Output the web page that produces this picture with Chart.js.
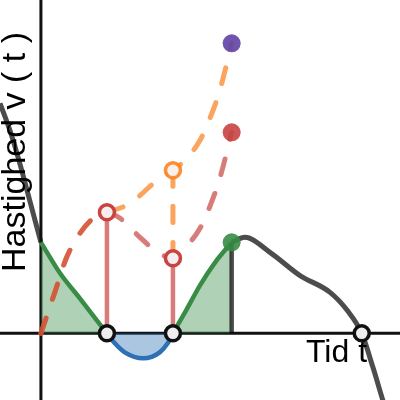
<!DOCTYPE html>
<html><head><meta charset="utf-8">
<script src="https://cdn.jsdelivr.net/npm/chart.js@4/dist/chart.umd.min.js"></script>
<style>html,body{margin:0;padding:0;background:#fff}canvas{display:block}</style>
</head><body>
<canvas id="c" width="400" height="400"></canvas>
<script>
const xTitle = 'Tid t';
const yTitle = 'Hastighed v ( t )';
const xRange = [-0.62, 5.44];
const yRange = [-2, 10];
// velocity v(t)
const vT = [-0.62,-0.47,-0.32,-0.17,0,0.29,0.59,0.94,1,1.12,1.27,1.55,1.8,1.92,2,2.2,2.41,2.64,2.89,3.09,3.47,3.92,4.38,4.64,4.86,5.03,5.18,5.32];
const vV = [6.9,6.09,5.1,3.99,2.73,1.8,1.05,0.15,0,-0.3,-0.57,-0.75,-0.57,-0.3,0,0.69,1.44,2.13,2.73,2.88,2.43,1.74,1.23,0.69,0,-1.02,-2.01,-2.9];
// displacement (signed area) s(t)
const sT = [0,0.21,0.39,0.59,0.85,1,1.2,1.5,1.73,2,2.18,2.41,2.56,2.71,2.89];
const sV = [0,1.23,2.28,3.0,3.54,3.63,3.45,2.88,2.49,2.25,2.56,3.15,3.81,4.65,6.03];
// distance (total area) d(t)
const dT = [0,0.21,0.39,0.59,0.85,1,1.35,1.76,2,2.18,2.41,2.56,2.71,2.89];
const dV = [0,1.23,2.28,3.0,3.54,3.63,3.9,4.59,4.89,5.19,5.79,6.45,7.29,8.7];
// key times
const zeroT = [1, 2, 4.86];
const endT = 2.89;

const C = {red:'#c74440', blue:'#2d70b3', green:'#388c46', purple:'#6042a6', orange:'#fa7e19'};
function pts(T, V, a, b){ const o=[]; T.forEach((t,i)=>{ if(t>=a-1e-9 && t<=b+1e-9) o.push({x:t,y:V[i]}); }); return o; }
function at(T, V, t){ return V[T.indexOf(t)]; }

const lineBase = {pointRadius:0, cubicInterpolationMode:'monotone', fill:false};
const datasets = [
  {...lineBase, data:pts(vT,vV,-10,0), borderColor:'rgba(0,0,0,0.7)', borderWidth:5, order:9},
  {...lineBase, data:pts(vT,vV,endT,10), borderColor:'rgba(0,0,0,0.7)', borderWidth:5, order:9},
  {...lineBase, data:[{x:xRange[0],y:0},{x:xRange[1],y:0}], borderColor:'#111', borderWidth:3, order:8},
  {...lineBase, data:[{x:0,y:yRange[0]},{x:0,y:yRange[1]}], borderColor:'#111', borderWidth:3, order:8},
  {...lineBase, data:pts(vT,vV,0,1), borderColor:C.green, borderWidth:4.5, fill:'origin', backgroundColor:'rgba(56,140,70,0.4)', order:7},
  {...lineBase, data:pts(vT,vV,1,2), borderColor:C.blue, borderWidth:4.5, fill:'origin', backgroundColor:'rgba(45,112,179,0.4)', order:7},
  {...lineBase, data:pts(vT,vV,2,endT), borderColor:C.green, borderWidth:4.5, fill:'origin', backgroundColor:'rgba(56,140,70,0.4)', order:7},
  {...lineBase, data:[{x:1,y:0},{x:1,y:at(sT,sV,1)}], borderColor:'rgba(199,68,64,0.7)', borderWidth:4.5, order:6},
  {...lineBase, data:[{x:2,y:0},{x:2,y:at(sT,sV,2)}], borderColor:'rgba(199,68,64,0.7)', borderWidth:4.5, order:6},
  {...lineBase, data:[{x:endT,y:0},{x:endT,y:at(vT,vV,endT)}], borderColor:'rgba(0,0,0,0.7)', borderWidth:4.5, order:6},
  {...lineBase, data:pts(dT,dV,0,endT), borderColor:'rgba(250,126,25,0.7)', borderWidth:5, borderDash:[16,20], borderCapStyle:'round', order:5},
  {...lineBase, data:[{x:2,y:at(sT,sV,2)},{x:2,y:at(dT,dV,2)}], borderColor:'rgba(250,126,25,0.7)', borderWidth:5, borderDash:[16,20], borderCapStyle:'round', order:5},
  {...lineBase, data:pts(sT,sV,0,endT), borderColor:'rgba(199,68,64,0.7)', borderWidth:5, borderDash:[16,20], borderCapStyle:'round', order:4},
  {type:'line', showLine:false, data:[{x:endT,y:at(dT,dV,endT)}], pointRadius:9, pointBorderWidth:0, pointBackgroundColor:'rgba(96,66,166,0.9)', order:3},
  {type:'line', showLine:false, data:[{x:endT,y:at(sT,sV,endT)}], pointRadius:9, pointBorderWidth:0, pointBackgroundColor:'rgba(199,68,64,0.9)', order:3},
  {type:'line', showLine:false, data:[{x:endT,y:at(vT,vV,endT)}], pointRadius:9, pointBorderWidth:0, pointBackgroundColor:'rgba(56,140,70,0.9)', order:3},
  {type:'line', showLine:false, data:[{x:1,y:at(sT,sV,1)},{x:2,y:at(sT,sV,2)}], pointRadius:7.5, pointBorderWidth:3.5, pointBorderColor:C.red, pointBackgroundColor:'#f6eeee', order:2},
  {type:'line', showLine:false, data:[{x:2,y:at(dT,dV,2)}], pointRadius:7.5, pointBorderWidth:3.5, pointBorderColor:'rgba(250,126,25,0.85)', pointBackgroundColor:'#f8f0ea', order:2},
  {type:'line', showLine:false, data:zeroT.map(t=>({x:t,y:0})), pointRadius:7.5, pointBorderWidth:3.5, pointBorderColor:'#111', pointBackgroundColor:'#eeeeee', order:1},
];

const titles = {
  id:'titles',
  beforeDatasetsDraw(chart){
    const ctx = chart.ctx; ctx.save();
    ctx.fillStyle = '#000';
    ctx.font = '32px "Liberation Sans", Arial, sans-serif';
    ctx.textAlign = 'left'; ctx.textBaseline = 'alphabetic';
    ctx.fillText(xTitle, 306, 362);
    ctx.font = '34px "Liberation Sans", Arial, sans-serif';
    ctx.translate(25, 152); ctx.rotate(-Math.PI/2);
    ctx.textAlign = 'center';
    ctx.fillText(yTitle, 0, 0);
    ctx.restore();
  }
};

new Chart(document.getElementById('c'), {
  type:'line',
  data:{datasets},
  options:{
    responsive:false, animation:false, devicePixelRatio:1,
    layout:{padding:0, autoPadding:false},
    scales:{
      x:{type:'linear', min:xRange[0], max:xRange[1], display:false},
      y:{type:'linear', min:yRange[0], max:yRange[1], display:false}
    },
    plugins:{legend:{display:false}, tooltip:{enabled:false}}
  },
  plugins:[titles]
});
</script>
</body></html>
